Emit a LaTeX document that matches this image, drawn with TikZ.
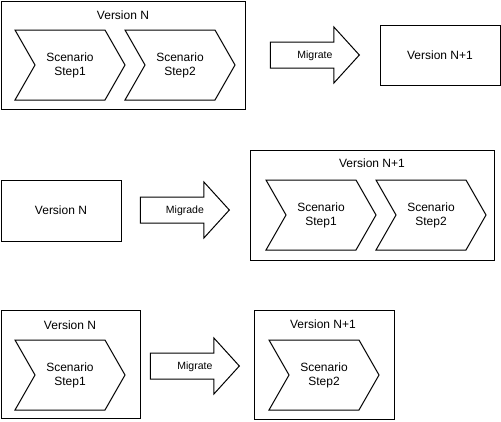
\documentclass[tikz,border=0pt]{standalone}
\usepackage{fontspec}
\setmainfont{Liberation Sans}
\usetikzlibrary{shapes.symbols,shapes.arrows}

\tikzset{
	frame/.style={draw, line width=1pt, inner sep=0pt},
	stepsign/.style={draw, line width=1pt, signal, signal from=west, signal to=east,
		signal pointer angle=120.5, inner sep=0pt, minimum width=110pt, minimum height=70pt,
		align=center, font=\fontsize{12pt}{14pt}\selectfont},
	migrarrow/.style={draw, line width=1pt, single arrow, single arrow tip angle=95.5,
		single arrow head extend=15pt, inner xsep=0pt, inner ysep=7.5pt,
		text height=8pt, text depth=2pt, minimum height=89pt, anchor=tip,
		font=\fontsize{10.5pt}{12pt}\selectfont},
	title/.style={font=\fontsize{12pt}{14pt}\selectfont}
}
\newcommand{\arrowtext}[1]{\hspace*{12pt}#1}

\begin{document}
\begin{tikzpicture}[x=1pt, y=-1pt]
	\useasboundingbox (0,0) rectangle (501,421);

	% top row
	\node[frame, minimum width=244pt, minimum height=108pt] (frameA) at (123,55) {};
	\node[title] (titleA) at (123,15) {Version N};
	\node[stepsign] (stepA1) at (70,65) {Scenario\\Step1};
	\node[stepsign] (stepA2) at (180,65) {Scenario\\Step2};
	\node[migrarrow] (migA) at (360,55) {\arrowtext{Migrate}};
	\node[frame, minimum width=120pt, minimum height=60pt, title] (verA) at (440,55) {Version N+1};

	% middle row
	\node[frame, minimum width=120pt, minimum height=61pt, title] (verB) at (61,210.5) {Version N};
	\node[migrarrow] (migB) at (230,210) {\arrowtext{Migrade}};
	\node[frame, minimum width=244pt, minimum height=110pt] (frameB) at (372,205) {};
	\node[title] (titleB) at (372,163) {Version N+1};
	\node[stepsign] (stepB1) at (321,215) {Scenario\\Step1};
	\node[stepsign] (stepB2) at (431,215) {Scenario\\Step2};

	% bottom row
	\node[frame, minimum width=139pt, minimum height=108pt] (frameC) at (70.5,364) {};
	\node[title] (titleC) at (70,325) {Version N};
	\node[stepsign] (stepC1) at (70,375) {Scenario\\Step1};
	\node[migrarrow] (migC) at (240,366) {\arrowtext{Migrate}};
	\node[frame, minimum width=140pt, minimum height=109pt] (frameD) at (324,364.5) {};
	\node[title] (titleD) at (323,324) {Version N+1};
	\node[stepsign] (stepD1) at (324,375) {Scenario\\Step2};
\end{tikzpicture}
\end{document}
